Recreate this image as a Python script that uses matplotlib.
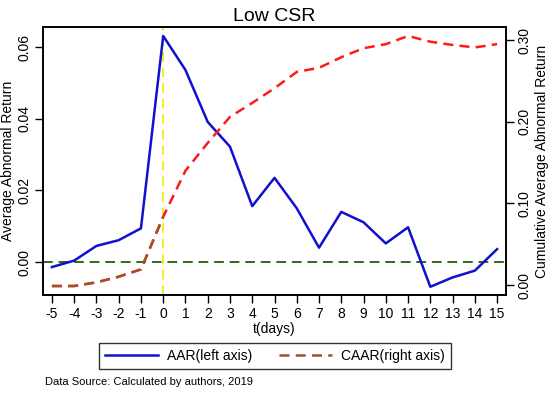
import matplotlib
matplotlib.use("Agg")
import matplotlib.pyplot as plt
from matplotlib.lines import Line2D

plt.rcParams['font.family'] = ['Liberation Sans', 'DejaVu Sans']

t = list(range(-5, 16))
aar = [-0.0014, 0.0004, 0.0045, 0.0061, 0.0094, 0.0631, 0.0536, 0.0391, 0.0322,
       0.0156, 0.0235, 0.0150, 0.0040, 0.0140, 0.0111, 0.0052, 0.0097, -0.0069,
       -0.0043, -0.0024, 0.0036]
caar = [-0.0012, -0.0012, 0.0033, 0.0102, 0.0192, 0.0836, 0.140, 0.174, 0.206,
        0.223, 0.241, 0.261, 0.266, 0.279, 0.290, 0.295, 0.305, 0.298, 0.294,
        0.291, 0.295]
left_ticks = [0.00, 0.02, 0.04, 0.06]
right_ticks = [0.00, 0.10, 0.20, 0.30]

fig = plt.figure(figsize=(5.5, 3.93), dpi=100)
ax = fig.add_axes([43/550, 1 - 295/393, (506-43)/550, (295-27)/393])
ax2 = ax.twinx()

blue = '#1010d0'
red = '#ff1a1a'
brown = '#a0522d'

ax.plot(t, aar, color=blue, lw=1.8, zorder=3)
ax.axhline(0, color='#2e6b1a', lw=1.4, ls=(0, (5, 3)), zorder=2)
ax.axvline(0, color='#f0f020', lw=1.4, ls=(0, (5, 3)), zorder=2)

ax2.plot(t, caar, color=red, lw=1.8, ls=(0, (4, 2.5)), zorder=3)
ax2.plot(t[:6], caar[:6], color=brown, lw=1.8, ls=(0, (4, 2.5)), zorder=4)

ax.set_xlim(-5.4, 15.4)
ax.set_ylim(-0.0092, 0.0656)
ax2.set_ylim(-0.0122, 0.316)
ax.set_xticks(t)
ax.set_xticklabels([str(v) for v in t], fontsize=10)
ax.set_yticks(left_ticks)
ax.set_yticklabels(['%.2f' % v for v in left_ticks], rotation=90, va='center', fontsize=10)
ax2.set_yticks(right_ticks)
ax2.set_yticklabels(['%.2f' % v for v in right_ticks], rotation=90, va='center', fontsize=10)

for a in (ax, ax2):
    a.tick_params(direction='out', length=6, width=1, pad=2)
    for s in a.spines.values():
        s.set_linewidth(1.2)
ax.tick_params(axis='x', pad=3)

ax.set_xlabel('t(days)', fontsize=10, labelpad=0)
ax.set_ylabel('Average Abnormal Return', fontsize=10, labelpad=2)
ax2.set_ylabel('Cumulative Average Abnormal Return', fontsize=10, labelpad=3)
ax.set_title('Low CSR', fontsize=14, pad=4)

handles = [Line2D([], [], color=blue, lw=1.8),
           Line2D([], [], color=brown, lw=1.8, ls=(0, (4, 2.5)))]
leg = fig.legend(handles, ['AAR(left axis)', 'CAAR(right axis)'], ncol=2,
           loc='center', bbox_to_anchor=(275/550, 1 - 356/393), fontsize=10,
           frameon=True, fancybox=False, edgecolor='black', handlelength=3.8,
           handletextpad=0.7, columnspacing=1.9, borderpad=0.4)
leg.get_frame().set_linewidth(1.0)
fig.text(45/550, 1 - 382/393, 'Data Source: Calculated by authors, 2019',
         fontsize=8, va='center', ha='left')

fig.savefig('out.png', dpi=100)
